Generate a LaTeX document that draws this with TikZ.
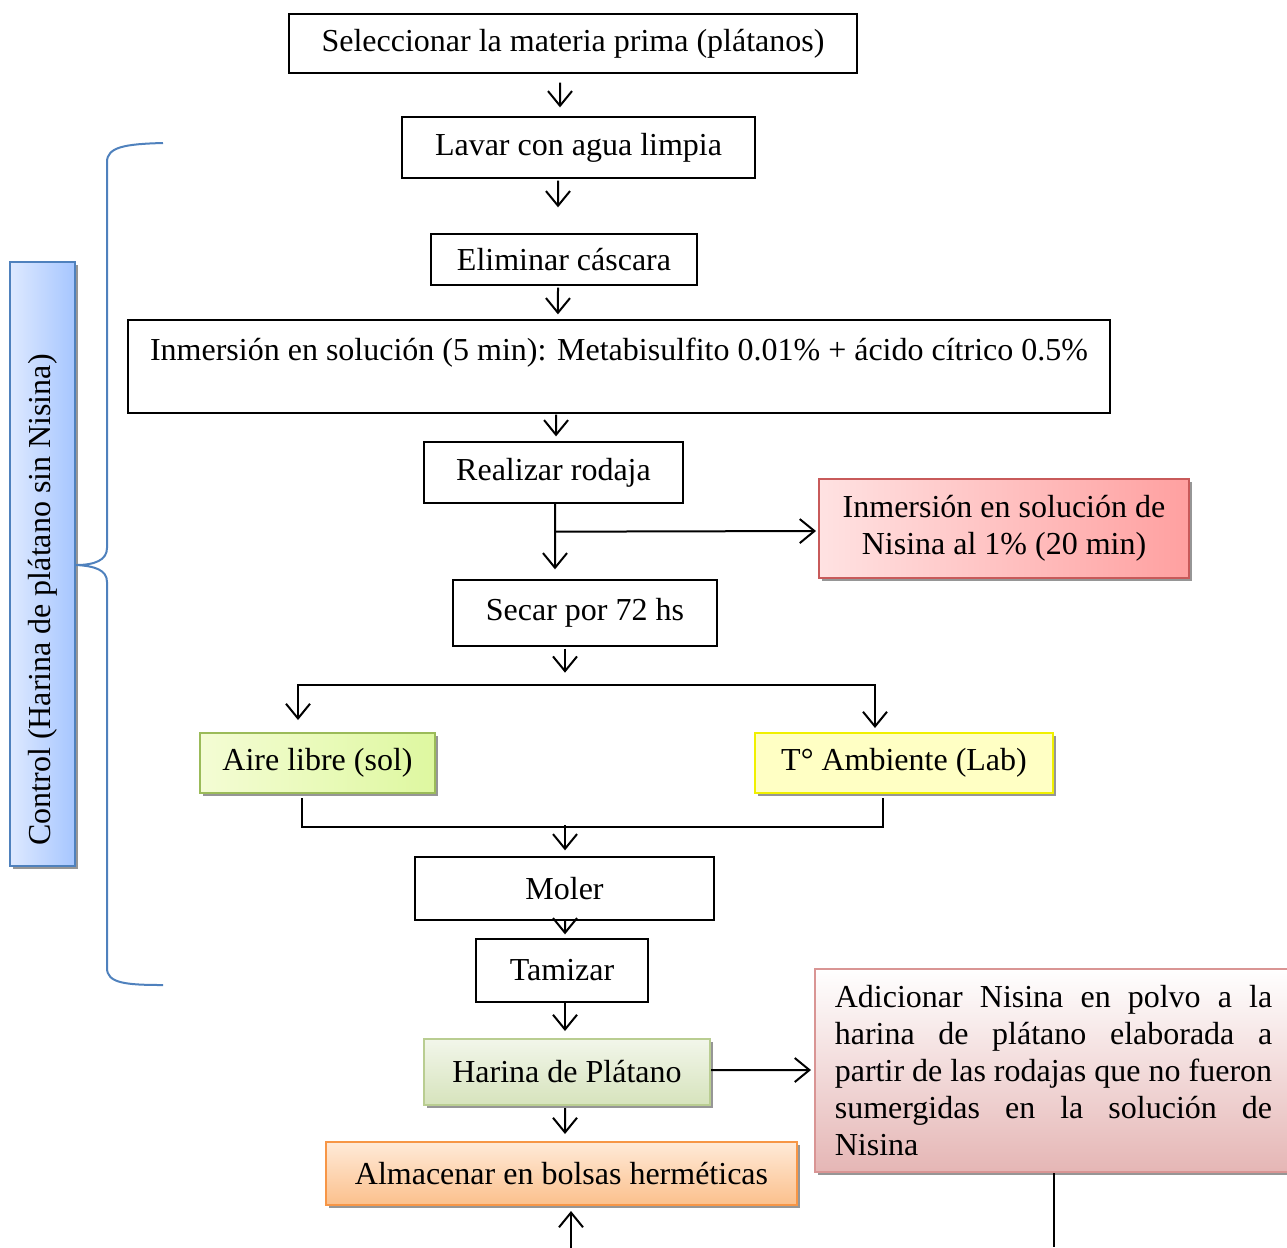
\documentclass[tikz,border=0pt]{standalone}
\usepackage{fontspec}
\setmainfont{Liberation Serif}
\usetikzlibrary{positioning,shadows,arrows.meta}
\definecolor{shadowgray}{RGB}{150,150,150}
\definecolor{nisedge}{RGB}{200,90,90}
\definecolor{nisleft}{RGB}{255,226,226}
\definecolor{nisright}{RGB}{255,160,160}
\definecolor{adicedge}{RGB}{217,149,148}
\definecolor{adicbot}{RGB}{229,182,181}
\definecolor{airedge}{RGB}{155,187,89}
\definecolor{aireleft}{RGB}{244,252,212}
\definecolor{aireright}{RGB}{222,248,160}
\definecolor{ambedge}{RGB}{240,240,0}
\definecolor{ambfill}{RGB}{255,255,196}
\definecolor{haredge}{RGB}{185,205,145}
\definecolor{hartop}{RGB}{242,246,234}
\definecolor{harbot}{RGB}{214,227,188}
\definecolor{almedge}{RGB}{247,150,70}
\definecolor{almtop}{RGB}{255,234,216}
\definecolor{almbot}{RGB}{251,192,140}
\definecolor{ctrledge}{RGB}{79,129,189}
\definecolor{ctrlleft}{RGB}{222,233,255}
\definecolor{ctrlright}{RGB}{166,198,255}

\begin{document}
\begin{tikzpicture}[x=0.375pt,y=-0.375pt,
  font=\fontsize{12}{13.8}\selectfont,
  every node/.style={inner sep=0pt},
  proc/.style={draw=black,line width=0.5pt},
  shade/.style={line width=0.75pt,drop shadow={shadow xshift=1pt,shadow yshift=-1.1pt,fill=shadowgray,opacity=1}},
  arr/.style={-{Straight Barb[length=5.5pt,width=9pt]},line width=0.75pt},
  arrs/.style={{Straight Barb[length=5.5pt,width=9pt]}-{Straight Barb[length=5.5pt,width=9pt]},line width=0.75pt},
  link/.style={line width=0.75pt}]
\useasboundingbox (0,0) rectangle (1287,1247);
\coordinate (edge) at (0,1247);

\node[proc,minimum width=213pt,minimum height=22.125pt] (sel) at (573,43.5) {Seleccionar la materia prima (plátanos)};
\node[proc,minimum width=132.375pt,minimum height=22.875pt] (lav) at (578.5,147.5) {Lavar con agua limpia};
\node[proc,minimum width=99.75pt,minimum height=19.125pt] (elim) at (564,259.5) {Eliminar cáscara};
\node[proc,minimum width=368.25pt,minimum height=34.875pt,label={[anchor=center,yshift=-12.5pt]north:Inmersión en solución (5 min): Metabisulfito 0.01\% + ácido cítrico 0.5\%}] (inm) at (619,366.5) {};
\node[proc,minimum width=97.125pt,minimum height=22.875pt] (rod) at (553.5,472.5) {Realizar rodaja};
\node[shade,draw=nisedge,left color=nisleft,right color=nisright,minimum width=138.75pt,minimum height=37.125pt,align=center] (nis) at (1004,528.5) {Inmersión en solución de\\Nisina al 1\% (20 min)};
\node[proc,minimum width=99pt,minimum height=24.75pt] (sec) at (585,613) {Secar por 72 hs};
\node[shade,draw=airedge,left color=aireleft,right color=aireright,minimum width=88.125pt,minimum height=22.5pt] (aire) at (317.5,763) {Aire libre (sol)};
\node[shade,draw=ambedge,fill=ambfill,minimum width=111.75pt,minimum height=22.5pt] (amb) at (904,763) {T° Ambiente (Lab)};
\node[proc,minimum width=112.125pt,minimum height=23.625pt] (mol) at (564.5,888.5) {Moler};
\node[proc,minimum width=64.5pt,minimum height=23.625pt] (tam) at (562,970.5) {Tamizar};
\node[shade,draw=haredge,top color=hartop,bottom color=harbot,minimum width=107.25pt,minimum height=24.75pt] (har) at (567,1072) {Harina de Plátano};
\node[shade,draw=almedge,top color=almtop,bottom color=almbot,minimum width=176.625pt,minimum height=23.625pt] (alm) at (561.5,1173.5) {Almacenar en bolsas herméticas};
\node[shade,draw=adicedge,top color=white,bottom color=adicbot,minimum width=178.875pt,minimum height=76.125pt,text width=164pt,align=justify] (adic) at (1053.5,1070.5) {\hyphenpenalty=10000 Adicionar Nisina en polvo a la\linebreak harina de plátano elaborada a\linebreak partir de las rodajas que no fueron\linebreak sumergidas en la solución de\linebreak Nisina};
\node[shade,draw=ctrledge,left color=ctrlleft,right color=ctrlright,minimum width=24.375pt,minimum height=226.5pt] (ctrl) at (42.5,564) {};
\node[rotate=90] (ctrltxt) at ([yshift=-13.5pt]ctrl.center) {Control (Harina de plátano sin Nisina)};

\draw[ctrledge,line width=0.75pt] (163,143) .. controls (125,144) and (107,147) .. (107,162) -- (107,548) .. controls (107,560) and (95,565) .. (76,565) .. controls (95,566) and (107,570) .. (107,582) -- (107,968) .. controls (107,983) and (125,985) .. (163,985);

\draw[arr] ([xshift=-4.875pt,yshift=-3.375pt]sel.south) -- ([xshift=-6.94pt,yshift=3.375pt]lav.north);
\draw[arr] ([xshift=-7.69pt,yshift=-0.75pt]lav.south) -- ([xshift=-2.25pt,yshift=9.75pt]elim.north);
\draw[arr] ([xshift=-2.25pt,yshift=-0.75pt]elim.south) -- ([xshift=-22.9pt,yshift=1.875pt]inm.north);
\draw[arr] ([xshift=-23.6pt,yshift=-0.4pt]inm.south) -- ([xshift=0.94pt,yshift=1.875pt]rod.north);
\draw[arr] ([xshift=0.56pt]rod.south) -- ([xshift=-11.25pt,yshift=3.75pt]sec.north);
\draw[arr] ([xshift=0.56pt,yshift=-10.5pt]rod.south) -- ([xshift=-0.75pt,yshift=-0.94pt]nis.west);
\draw[arr] ([xshift=-7.5pt,yshift=-0.75pt]sec.south) -- ([xshift=-7.5pt,yshift=-9.75pt]sec.south);
\draw[arrs] ([xshift=-7.31pt,yshift=4.5pt]aire.north) |- ([xshift=-10.88pt,yshift=17.6pt]amb.north) -- ([xshift=-10.88pt,yshift=1.5pt]amb.north);
\draw[link] ([xshift=-5.81pt,yshift=-1.5pt]aire.south) |- ([xshift=-7.875pt,yshift=-12.375pt]amb.south) -- ([xshift=-7.875pt,yshift=-1.5pt]amb.south);
\draw[arr] ([xshift=0.19pt,yshift=11.6pt]mol.north) -- ([xshift=0.19pt,yshift=2.25pt]mol.north);
\draw[arr] ([xshift=0.19pt]mol.south) -- ([xshift=1.125pt,yshift=1.5pt]tam.north);
\draw[arr] ([xshift=1.125pt]tam.south) -- ([xshift=-0.75pt,yshift=2.625pt]har.north);
\draw[arr] ([xshift=-0.75pt,yshift=-0.75pt]har.south) -- ([xshift=1.31pt,yshift=2.625pt]alm.north);
\draw[arr] ([yshift=0.75pt]har.east) -- ([xshift=-1.125pt,yshift=0.19pt]adic.west);
\draw[link] (adic.south) -- (adic.south |- edge);
\draw[arr] ([xshift=3.56pt,yshift=-15.75pt]alm.south) -- ([xshift=3.56pt,yshift=-1.875pt]alm.south);
\end{tikzpicture}
\end{document}
